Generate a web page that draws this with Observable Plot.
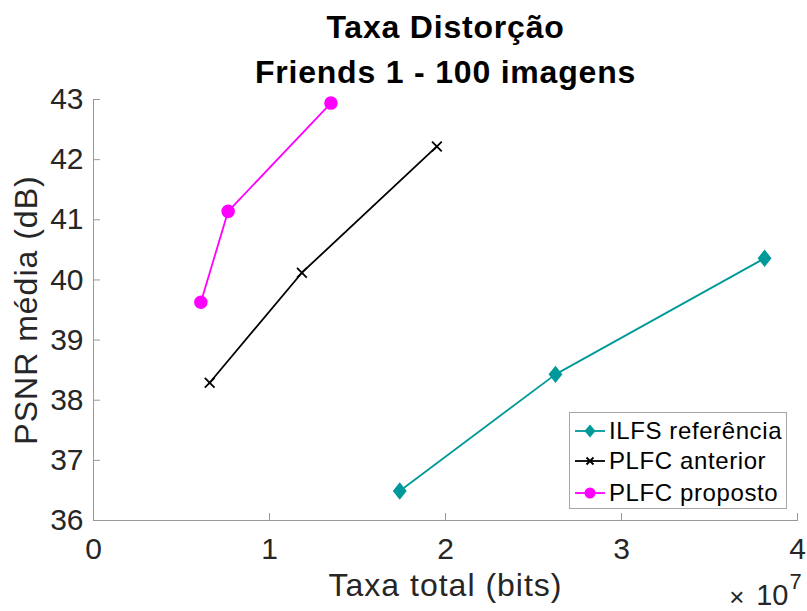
<!DOCTYPE html>
<html>
<head>
<meta charset="utf-8">
<script src="https://cdn.jsdelivr.net/npm/d3@7"></script>
<script src="https://cdn.jsdelivr.net/npm/@observablehq/plot@0.6"></script>
<style>
  body { margin: 0; background: #fff; }
  #wrap { position: relative; width: 807px; height: 611px; font-family: "Liberation Sans", Arial, sans-serif; }
  #wrap > svg { position: absolute; left: 0; top: 0; }
  #legend { position: absolute; left: 569px; top: 412px; width: 218px; height: 97px;
            border: 1px solid #a6a6a6; background: #fff; box-sizing: border-box; }
  .row { position: absolute; left: 3px; height: 30px; display: flex; align-items: center;
         font-size: 24px; letter-spacing: 0.6px; color: #000; white-space: nowrap; }
  .row svg { display: block; margin-right: 2px; }
</style>
</head>
<body>
<div id="wrap"></div>
<script>
// Series names and colours
const seriesNames = ["ILFS referência", "PLFC anterior", "PLFC proposto"];
const seriesColors = ["#009999", "#000000", "#ff00ff"];

// Total rate (bits) and mean PSNR (dB) for each method
const ilfsRate = [1.740e7, 2.625e7, 3.813e7];
const ilfsPsnr = [36.49, 38.43, 40.36];
const anteriorRate = [0.660e7, 1.184e7, 1.951e7];
const anteriorPsnr = [38.29, 40.12, 42.22];
const propostoRate = [0.610e7, 0.765e7, 1.349e7];
const propostoPsnr = [39.63, 41.14, 42.94];

// Axis ticks
const xTicks = [0, 1e7, 2e7, 3e7, 4e7];
const yTicks = [36, 37, 38, 39, 40, 41, 42, 43];

// Texts
const titleLines = ["Taxa Distorção", "Friends 1 - 100 imagens"];
const xLabel = "Taxa total (bits)";
const yLabel = "PSNR média (dB)";

const toRows = (name, rate, psnr) => rate.map((r, i) => ({name, rate: r, psnr: psnr[i]}));
const ilfs = toRows(seriesNames[0], ilfsRate, ilfsPsnr);
const anterior = toRows(seriesNames[1], anteriorRate, anteriorPsnr);
const proposto = toRows(seriesNames[2], propostoRate, propostoPsnr);

// Diamond marker, slightly taller than wide
const tallDiamond = {
  draw(ctx, size) {
    const r = Math.sqrt(size / Math.PI);
    const w = r * 0.92, h = r * 1.15;
    ctx.moveTo(0, -h); ctx.lineTo(w, 0); ctx.lineTo(0, h); ctx.lineTo(-w, 0); ctx.closePath();
  }
};

const axisGray = "#999999";
const textDark = "#262626";

const chart = Plot.plot({
  width: 807,
  height: 611,
  marginLeft: 93,
  marginRight: 10,
  marginTop: 99,
  marginBottom: 91,
  style: {fontFamily: "'Liberation Sans', Arial, sans-serif", color: textDark, background: "transparent", overflow: "visible"},
  x: {domain: [0, 4e7]},
  y: {domain: [36, 43]},
  marks: [
    // axis lines (left and bottom only)
    Plot.frame({anchor: "left", stroke: axisGray}),
    Plot.frame({anchor: "bottom", stroke: axisGray}),
    // inward ticks
    Plot.axisX({ticks: xTicks, tickSize: -7, stroke: axisGray, fill: "none", label: null}),
    Plot.axisY({ticks: yTicks, tickSize: -7, stroke: axisGray, fill: "none", label: null}),
    // tick labels
    Plot.axisX({ticks: xTicks, tickSize: 0, tickPadding: 17, tickFormat: d => d / 1e7, fontSize: 30, fill: textDark, label: null}),
    Plot.axisY({ticks: yTicks, tickSize: 0, tickPadding: 10, tickFormat: d => d, fontSize: 30, fill: textDark, label: null}),
    // series
    Plot.line(ilfs, {x: "rate", y: "psnr", stroke: seriesColors[0], strokeWidth: 1.8}),
    Plot.dot(ilfs, {x: "rate", y: "psnr", symbol: tallDiamond, r: 6.5, fill: seriesColors[0], stroke: seriesColors[0]}),
    Plot.line(anterior, {x: "rate", y: "psnr", stroke: seriesColors[1], strokeWidth: 1.8}),
    Plot.dot(anterior, {x: "rate", y: "psnr", symbol: "times", r: 4.5, stroke: seriesColors[1], strokeWidth: 1.8}),
    Plot.line(proposto, {x: "rate", y: "psnr", stroke: seriesColors[2], strokeWidth: 1.8}),
    Plot.dot(proposto, {x: "rate", y: "psnr", symbol: "circle", r: 6, fill: seriesColors[2], stroke: seriesColors[2]}),
    // title
    Plot.text([titleLines[0]], {frameAnchor: "top", textAnchor: "middle", lineAnchor: "middle", dy: -72, fontSize: 32, fontWeight: "bold", fill: "#000"}),
    Plot.text([titleLines[1]], {frameAnchor: "top", textAnchor: "middle", lineAnchor: "middle", dy: -27, fontSize: 32, fontWeight: "bold", fill: "#000"}),
    // axis labels
    Plot.text([xLabel], {frameAnchor: "bottom", textAnchor: "middle", lineAnchor: "middle", dy: 65, fontSize: 32, fill: textDark}),
    Plot.text([yLabel], {frameAnchor: "left", textAnchor: "middle", lineAnchor: "middle", dx: -67, rotate: -90, fontSize: 32, fill: textDark}),
    // exponent of the x axis
    Plot.text(["×"], {frameAnchor: "bottom-right", textAnchor: "end", lineAnchor: "middle", dx: -53, dy: 77, fontSize: 26, fill: textDark}),
    Plot.text(["10"], {frameAnchor: "bottom-right", textAnchor: "end", lineAnchor: "middle", dx: -9, dy: 75, fontSize: 29, fill: textDark}),
    Plot.text(["7"], {frameAnchor: "bottom-right", textAnchor: "start", lineAnchor: "middle", dx: -8, dy: 61, fontSize: 22, fill: textDark})
  ]
});

// Wider letter spacing for title and axis labels
d3.select(chart).selectAll("text")
  .filter(function () { return titleLines.includes(this.textContent); })
  .attr("letter-spacing", "0.8px");
d3.select(chart).selectAll("text")
  .filter(function () { return [xLabel, yLabel].includes(this.textContent); })
  .attr("letter-spacing", "1px");

const wrap = document.getElementById("wrap");
wrap.appendChild(chart);

// Legend
const legend = document.createElement("div");
legend.id = "legend";
const markerSvg = [
  `<line x1="2" y1="15" x2="32" y2="15" stroke="${seriesColors[0]}" stroke-width="1.8"/><polygon points="17,8.5 22.5,15 17,21.5 11.5,15" fill="${seriesColors[0]}"/>`,
  `<line x1="2" y1="15" x2="32" y2="15" stroke="${seriesColors[1]}" stroke-width="1.8"/><path d="M13.5,11.5L20.5,18.5M20.5,11.5L13.5,18.5" stroke="${seriesColors[1]}" stroke-width="1.8"/>`,
  `<line x1="2" y1="15" x2="32" y2="15" stroke="${seriesColors[2]}" stroke-width="1.8"/><circle cx="17" cy="15" r="5.5" fill="${seriesColors[2]}"/>`
];
const rowTops = [3, 33, 65];
seriesNames.forEach((name, i) => {
  const row = document.createElement("div");
  row.className = "row";
  row.style.top = rowTops[i] + "px";
  row.innerHTML = `<svg width="34" height="30">${markerSvg[i]}</svg><span>${name}</span>`;
  legend.appendChild(row);
});
wrap.appendChild(legend);
</script>
</body>
</html>
